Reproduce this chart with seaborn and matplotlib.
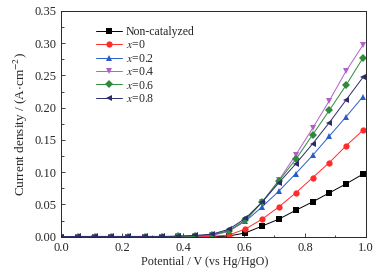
import matplotlib.pyplot as plt
import pandas as pd
import seaborn as sns
from matplotlib.ticker import MultipleLocator

# Data
potential = [0.0, 0.055, 0.11, 0.165, 0.22, 0.275, 0.33, 0.385, 0.44, 0.495,
             0.55, 0.605, 0.66, 0.715, 0.77, 0.825, 0.88, 0.935, 0.99]
non_cat = [0, 0, 0, 0, 0, 0, 0, 0, 0, 0,
           0.001, 0.006, 0.0166, 0.0274, 0.041, 0.054, 0.068, 0.082, 0.097]
x0 = [0, 0, 0, 0, 0, 0, 0, 0, 0, 0.0005,
      0.0026, 0.012, 0.0274, 0.0465, 0.068, 0.0915, 0.115, 0.141, 0.165]
x02 = [0, 0, 0, 0, 0, 0, 0, 0.0005, 0.001, 0.003,
       0.0093, 0.024, 0.0465, 0.071, 0.098, 0.126, 0.156, 0.186, 0.217]
x04 = [0, 0, 0, 0, 0, 0, 0, 0.0005, 0.001, 0.002,
       0.008, 0.025, 0.054, 0.088, 0.127, 0.168, 0.211, 0.257, 0.297]
x06 = [0, 0, 0, 0, 0, 0, 0, 0.0005, 0.001, 0.003,
       0.009, 0.026, 0.054, 0.087, 0.120, 0.158, 0.196, 0.235, 0.277]
x08 = [0, 0.0005, 0.0005, 0.0005, 0.0005, 0.0005, 0.0005, 0.001, 0.002, 0.004,
       0.0115, 0.0285, 0.054, 0.084, 0.113, 0.144, 0.177, 0.212, 0.247]

labels = ['Non-catalyzed', '$x$=0', '$x$=0.2', '$x$=0.4', '$x$=0.6', '$x$=0.8']
series = [non_cat, x0, x02, x04, x06, x08]
colors = ['#000000', '#ff2a2a', '#2a5cc8', '#b060c8', '#2e8b3a', '#2c2c6c']
markers = ['s', 'o', '^', 'v', 'D', '<']

rows = []
for lab, vals in zip(labels, series):
  for p, v in zip(potential, vals):
    rows.append({'Potential': p, 'Current': v, 'Sample': lab})
df = pd.DataFrame(rows)

sns.set_style('ticks')
plt.rcParams['font.family'] = ['Liberation Serif', 'DejaVu Serif']
plt.rcParams['mathtext.fontset'] = 'stix'
plt.rcParams['xtick.direction'] = 'in'
plt.rcParams['ytick.direction'] = 'in'

fig = plt.figure(figsize=(3.86, 2.74), dpi=100)
ax = fig.add_axes([0.158, 0.136, 0.79, 0.824])

sns.lineplot(data=df, x='Potential', y='Current', hue='Sample', style='Sample',
             palette=dict(zip(labels, colors)), markers=dict(zip(labels, markers)),
             dashes=False, linewidth=0.7, markersize=4.5, markeredgewidth=0,
             ax=ax)

ax.set_xlim(0, 1.0)
ax.set_ylim(0, 0.35)
ax.xaxis.set_major_locator(MultipleLocator(0.2))
ax.xaxis.set_minor_locator(MultipleLocator(0.1))
ax.yaxis.set_major_locator(MultipleLocator(0.05))
ax.yaxis.set_minor_locator(MultipleLocator(0.025))
ax.xaxis.set_major_formatter(plt.FormatStrFormatter('%.1f'))
ax.yaxis.set_major_formatter(plt.FormatStrFormatter('%.2f'))
ax.tick_params(which='both', labelsize=9, width=0.6)
ax.tick_params(which='major', length=3)
ax.tick_params(which='minor', length=1.8)
for s in ax.spines.values():
  s.set_linewidth(0.7)

ax.set_xlabel('Potential / V (vs Hg/HgO)', fontsize=8.7, labelpad=2, x=0.47)
ax.set_ylabel('Current density / (A$\\cdot$cm$^{-2}$)', fontsize=9.5, labelpad=3)

leg = ax.legend(loc='upper left', bbox_to_anchor=(0.1, 0.955), frameon=False,
                fontsize=8.5, handlelength=2.2, handletextpad=0.3,
                labelspacing=0.12, borderaxespad=0)

fig.savefig('out.png', dpi=100)
